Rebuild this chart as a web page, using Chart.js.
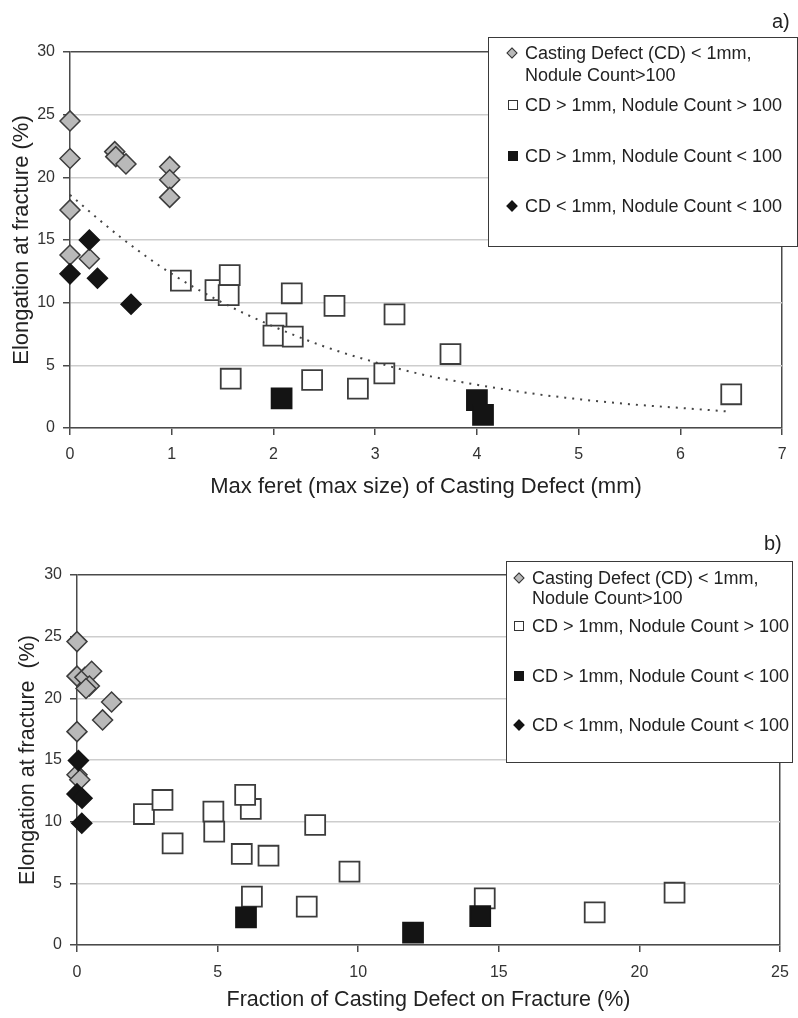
<!DOCTYPE html>
<html>
<head>
<meta charset="utf-8">
<script src="https://cdn.jsdelivr.net/npm/chart.js@4.4.1/dist/chart.umd.min.js"></script>
<style>
  body { margin: 0; background: #fff; font-family: "Liberation Sans", Arial, sans-serif; }
  #page { position: relative; width: 798px; height: 1018px; overflow: hidden; }
  canvas { position: absolute; left: 0; }
  .tag { position: absolute; font-size: 20px; color: #222; line-height: 22px; }
  .legend { position: absolute; box-sizing: border-box; background: #fff; border: 1.5px solid #3a3a3a; z-index: 2; }
  .legend .txt { position: absolute; font-size: 18px; line-height: 22px; color: #222; white-space: nowrap; }
  .legend .mk { position: absolute; box-sizing: border-box; border: 1px solid #333; }
  .mk.dia { width: 8px; height: 8px; margin: -4px 0 0 -4px; transform: rotate(45deg); }
  .mk.sq { width: 10px; height: 10px; margin: -5px 0 0 -5px; }
  .gray { background: #b9b9b9; }
  .white { background: #fff; }
  .black { background: #141414; border-color: #141414 !important; }
</style>
</head>
<body>
<div id="page">
  <canvas id="chartA" width="798" height="509" style="top:0"></canvas>
  <canvas id="chartB" width="798" height="509" style="top:509px"></canvas>

  <div class="tag" style="left:772px; top:10px;">a)</div>
  <div class="legend" style="left:488px; top:37px; width:310px; height:210px;">
    <div class="mk dia gray" style="left:23px; top:15px;"></div>
    <div class="txt" style="left:36px; top:4px;">Casting Defect (CD) &lt; 1mm,</div>
    <div class="txt" style="left:36px; top:26px;">Nodule Count&gt;100</div>
    <div class="mk sq white" style="left:24px; top:67px;"></div>
    <div class="txt" style="left:36px; top:56px;">CD &gt; 1mm, Nodule Count &gt; 100</div>
    <div class="mk sq black" style="left:24px; top:118px;"></div>
    <div class="txt" style="left:36px; top:107px;">CD &gt; 1mm, Nodule Count &lt; 100</div>
    <div class="mk dia black" style="left:23px; top:168px;"></div>
    <div class="txt" style="left:36px; top:157px;">CD &lt; 1mm, Nodule Count &lt; 100</div>
  </div>

  <div class="tag" style="left:764px; top:532px;">b)</div>
  <div class="legend" style="left:506px; top:561px; width:287px; height:202px;">
    <div class="mk dia gray" style="left:12px; top:16px;"></div>
    <div class="txt" style="left:25px; top:5px;">Casting Defect (CD) &lt; 1mm,</div>
    <div class="txt" style="left:25px; top:25px;">Nodule Count&gt;100</div>
    <div class="mk sq white" style="left:12px; top:64px;"></div>
    <div class="txt" style="left:25px; top:53px;">CD &gt; 1mm, Nodule Count &gt; 100</div>
    <div class="mk sq black" style="left:12px; top:114px;"></div>
    <div class="txt" style="left:25px; top:103px;">CD &gt; 1mm, Nodule Count &lt; 100</div>
    <div class="mk dia black" style="left:12px; top:163px;"></div>
    <div class="txt" style="left:25px; top:152px;">CD &lt; 1mm, Nodule Count &lt; 100</div>
  </div>
</div>

<script>
// ---- panel a) : max feret of casting defect (mm) vs elongation (%)
const grayAX = [0, 0, 0, 0, 0.44, 0.45, 0.55, 0.98, 0.98, 0.98, 0.19];
const grayAY = [24.5, 21.5, 17.4, 13.8, 22.05, 21.65, 21.07, 20.85, 19.8, 18.4, 13.5];
const whiteAX = [1.43, 1.09, 1.57, 1.56, 2.18, 2.6, 2.03, 2.0, 2.19, 1.58, 2.38, 2.83, 3.09, 3.19, 3.74, 6.5];
const whiteAY = [11.0, 11.76, 12.2, 10.6, 10.75, 9.74, 8.35, 7.37, 7.29, 3.93, 3.83, 3.14, 4.36, 9.07, 5.9, 2.69];
const blackSqAX = [2.08, 4.0, 4.06];
const blackSqAY = [2.37, 2.23, 1.04];
const blackDiaAX = [0.19, 0, 0.27, 0.6];
const blackDiaAY = [15.0, 12.3, 11.95, 9.87];
// dotted trend line
const trendAX = [0, 0.5, 1, 1.5, 2, 2.5, 3, 3.5, 4, 4.5, 5, 5.5, 6, 6.5];
const trendAY = [18.6, 15.2, 12.3, 10.0, 8.1, 6.5, 5.25, 4.2, 3.45, 2.8, 2.3, 1.9, 1.6, 1.3];
const xTicksA = [0, 1, 2, 3, 4, 5, 6, 7];

// ---- panel b) : fraction of casting defect on fracture (%) vs elongation (%)
const grayBX = [0, 0, 0.28, 0.52, 0.44, 0.32, 1.23, 0.91, 0, 0, 0.1];
const grayBY = [24.6, 21.8, 21.7, 22.2, 21.0, 20.8, 19.7, 18.25, 17.3, 13.8, 13.4];
const whiteBX = [2.38, 3.04, 3.4, 4.85, 4.88, 6.18, 5.98, 5.86, 6.81, 8.47, 9.69, 6.22, 8.17, 14.5, 18.41, 21.25];
const whiteBY = [10.62, 11.76, 8.24, 10.81, 9.19, 11.03, 12.17, 7.38, 7.24, 9.73, 5.95, 3.92, 3.11, 3.78, 2.65, 4.24];
const blackSqBX = [6.01, 11.95, 14.34];
const blackSqBY = [2.24, 1.0, 2.35];
const blackDiaBX = [0.05, 0, 0.18, 0.17];
const blackDiaBY = [14.95, 12.25, 11.9, 9.87];
const xTicksB = [0, 5, 10, 15, 20, 25];

const yTicks = [0, 5, 10, 15, 20, 25, 30];

const labels = [
    'Casting Defect (CD) < 1mm, Nodule Count>100',
    'CD > 1mm, Nodule Count > 100',
    'CD > 1mm, Nodule Count < 100',
    'CD < 1mm, Nodule Count < 100'
];

const DARK = '#4a4a4a';
const GRID = '#cdcdcd';
const FONT = '"Liberation Sans", Arial, sans-serif';

function pts(xs, ys) {
    return xs.map(function (x, i) { return { x: x, y: ys[i] }; });
}

function pointSet(label, data, style, fill, border, order) {
    return {
        label: label,
        data: data,
        pointStyle: style,
        pointRadius: style === 'rect' ? 14.1 : 10,
        pointBackgroundColor: fill,
        pointBorderColor: border,
        pointBorderWidth: style === 'rect' ? 1.8 : 1.5,
        showLine: false,
        clip: false,
        order: order
    };
}

function makeChart(id, o) {
    const ctx = document.getElementById(id).getContext('2d');
    const xMax = o.xTicks[o.xTicks.length - 1];
    const yMax = yTicks[yTicks.length - 1];
    return new Chart(ctx, {
        type: 'scatter',
        data: { datasets: o.datasets },
        options: {
            responsive: false,
            animation: false,
            layout: { padding: { top: o.top, right: o.right, left: 0, bottom: 0 } },
            plugins: { legend: { display: false }, tooltip: { enabled: false } },
            scales: {
                x: {
                    type: 'linear',
                    min: o.xTicks[0],
                    max: xMax,
                    afterBuildTicks: function (s) { s.ticks = o.xTicks.map(function (v) { return { value: v }; }); },
                    ticks: { font: { family: FONT, size: 16 }, color: '#333', padding: o.xPad, maxRotation: 0 },
                    grid: {
                        color: function (c) { return c.tick && c.tick.value === xMax ? DARK : 'rgba(0,0,0,0)'; },
                        tickColor: DARK,
                        tickLength: 7,
                        lineWidth: 1.5
                    },
                    border: { color: DARK, width: 1.5 },
                    title: {
                        display: true,
                        text: o.xTitle,
                        color: '#222',
                        font: { family: FONT, size: o.xTitleSize },
                        padding: { top: 0, bottom: o.xTitlePad }
                    },
                    afterFit: function (s) { s.height = o.xHeight; s.paddingLeft = 0; s.paddingRight = 0; }
                },
                y: {
                    min: 0,
                    max: yMax,
                    afterBuildTicks: function (s) { s.ticks = yTicks.map(function (v) { return { value: v }; }); },
                    ticks: { font: { family: FONT, size: 16 }, color: '#333', padding: 8 },
                    grid: {
                        color: function (c) { return c.tick && c.tick.value === yMax ? DARK : GRID; },
                        tickColor: DARK,
                        tickLength: 7,
                        lineWidth: 1.5
                    },
                    border: { color: DARK, width: 1.5 },
                    title: {
                        display: true,
                        text: o.yTitle,
                        color: '#222',
                        font: { family: FONT, size: o.yTitleSize },
                        padding: { top: o.yTitlePad, bottom: 0 }
                    },
                    afterFit: function (s) { s.width = o.yWidth; }
                }
            }
        }
    });
}

const trendA = {
    label: 'trend',
    data: pts(trendAX, trendAY),
    showLine: true,
    pointRadius: 0,
    borderColor: '#444',
    borderWidth: 2,
    borderDash: [2, 6],
    cubicInterpolationMode: 'monotone',
    clip: false,
    order: 0
};

makeChart('chartA', {
    top: 52, right: 3,
    xTicks: xTicksA,
    xHeight: 81, xPad: 10,
    xTitle: 'Max feret (max size) of Casting Defect (mm)', xTitleSize: 22, xTitlePad: 9,
    yWidth: 70,
    yTitle: 'Elongation at fracture (%)', yTitleSize: 22, yTitlePad: 9,
    datasets: [
        trendA,
        pointSet(labels[3], pts(blackDiaAX, blackDiaAY), 'rectRot', '#141414', '#141414', 1),
        pointSet(labels[2], pts(blackSqAX, blackSqAY), 'rect', '#141414', '#141414', 2),
        pointSet(labels[1], pts(whiteAX, whiteAY), 'rect', '#ffffff', '#3c3c3c', 3),
        pointSet(labels[0], pts(grayAX, grayAY), 'rectRot', '#b9b9b9', '#3c3c3c', 4)
    ]
});

makeChart('chartB', {
    top: 66, right: 18,
    xTicks: xTicksB,
    xHeight: 73, xPad: 11,
    xTitle: 'Fraction of Casting Defect on Fracture (%)', xTitleSize: 21.5, xTitlePad: 5,
    yWidth: 77,
    yTitle: 'Elongation at fracture  (%)', yTitleSize: 21.5, yTitlePad: 15,
    datasets: [
        pointSet(labels[3], pts(blackDiaBX, blackDiaBY), 'rectRot', '#141414', '#141414', 1),
        pointSet(labels[2], pts(blackSqBX, blackSqBY), 'rect', '#141414', '#141414', 2),
        pointSet(labels[1], pts(whiteBX, whiteBY), 'rect', '#ffffff', '#3c3c3c', 3),
        pointSet(labels[0], pts(grayBX, grayBY), 'rectRot', '#b9b9b9', '#3c3c3c', 4)
    ]
});
</script>
</body>
</html>
